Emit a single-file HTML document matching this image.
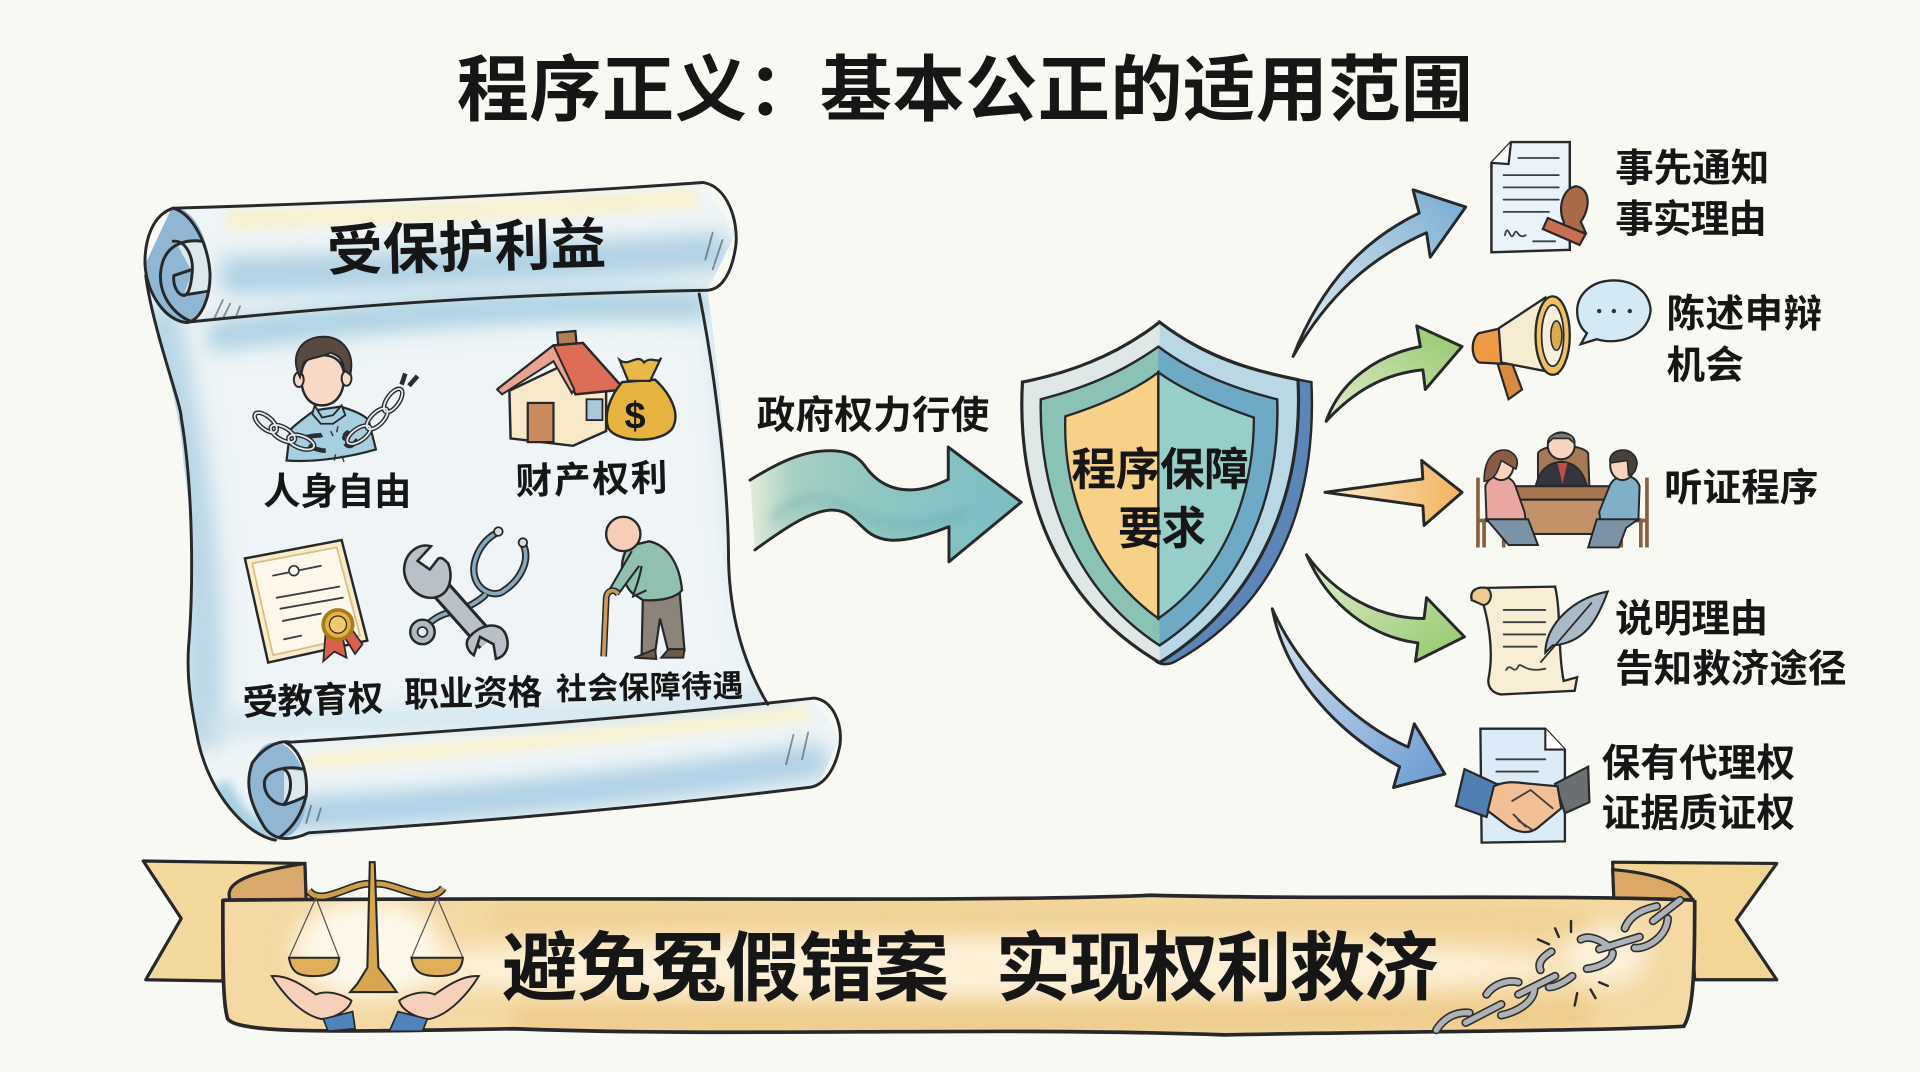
<!DOCTYPE html>
<html lang="zh"><head><meta charset="utf-8"><title>程序正义：基本公正的适用范围</title>
<style>
html,body{margin:0;padding:0;width:1920px;height:1072px;overflow:hidden;background:#f9f9f4}
svg{display:block}
text{font-family:"Liberation Sans","Noto Sans CJK SC",sans-serif;fill:#161616;font-weight:700}
.o{stroke:#26282a;stroke-width:2.4;stroke-linejoin:round;stroke-linecap:round}
.n{fill:none}
.l{fill:none;stroke:#3a3f44;stroke-width:1.5;stroke-linecap:round}
.cd{fill:none;stroke:#2a2c2e;stroke-width:3.8}
.cw{fill:none;stroke:#e4e8ea;stroke-width:1.5}
.gd{fill:none;stroke:#2c2e30;stroke-width:7;stroke-linecap:round}
.gw{fill:none;stroke:#aeb2b6;stroke-width:4.4;stroke-linecap:round}
</style></head><body>
<svg width="1920" height="1072" viewBox="0 0 1568 875.3" xmlns="http://www.w3.org/2000/svg" preserveAspectRatio="none">
<defs>
<filter id="b" filterUnits="userSpaceOnUse" x="0" y="0" width="1568" height="876"><feGaussianBlur stdDeviation="9"/></filter>
<filter id="b2" filterUnits="userSpaceOnUse" x="0" y="0" width="1568" height="876"><feGaussianBlur stdDeviation="4"/></filter>
<clipPath id="sc"><path d="M119 215C125 270 148 330 150 380C158 430 158 480 154 528C152 560 158 585 162 606C172 650 202 682 225 686L668 642L686 603L665 570L626 576C606 540 596 500 595 458C596 400 590 330 578 237L601 190L574 149L140 170Z"/></clipPath>
<clipPath id="bn"><path d="M182 735C182 790 182 820 186 832C195 845 290 842 420 840C600 847 800 838 1000 845C1150 842 1300 842 1375 838C1384 825 1384 780 1384 735C1250 730 1100 735 940 731C800 737 500 732 182 735Z"/></clipPath>
<linearGradient id="a1" x1="0" y1="1" x2="1" y2="0"><stop offset="0" stop-color="#e3edf2"/><stop offset=".6" stop-color="#a6c8de"/><stop offset="1" stop-color="#75a9d3"/></linearGradient>
<linearGradient id="a2" x1="0" y1="1" x2="1" y2="0"><stop offset="0" stop-color="#e0ecc8"/><stop offset="1" stop-color="#95c76c"/></linearGradient>
<linearGradient id="a3" x1="0" y1="0" x2="1" y2="0"><stop offset="0" stop-color="#faeccb"/><stop offset="1" stop-color="#f2b25e"/></linearGradient>
<linearGradient id="a4" x1="0" y1="0" x2="1" y2="1"><stop offset="0" stop-color="#e2eecc"/><stop offset="1" stop-color="#93c76c"/></linearGradient>
<linearGradient id="a5" x1="0" y1="0" x2="1" y2="1"><stop offset="0" stop-color="#d9e5f1"/><stop offset="1" stop-color="#699ad1"/></linearGradient>
<linearGradient id="t" x1="0" y1="0" x2="1" y2="0"><stop offset="0" stop-color="#e3ecd9"/><stop offset=".16" stop-color="#a6d0c4"/><stop offset=".5" stop-color="#8cc6c0"/><stop offset="1" stop-color="#7cbcc2"/></linearGradient>
</defs>

<rect width="1568" height="876" fill="#f9f9f4"/>

<!-- title -->
<text x="373" y="94" font-size="59" textLength="830" lengthAdjust="spacing">程序正义：基本公正的适用范围</text>

<!-- scroll -->
<path d="M119 215C125 270 148 330 150 380C158 430 158 480 154 528C152 560 158 585 162 606C172 650 202 682 225 686L668 642L686 603L665 570L626 576C606 540 596 500 595 458C596 400 590 330 578 237L601 190L574 149L140 170Z" fill="#eff5f7"/>
<g clip-path="url(#sc)">
 <path d="M130 250C150 350 172 450 165 610" stroke="#b7d5e5" stroke-width="30" fill="none" filter="url(#b)"/>
 <path d="M170 275C300 258 450 245 580 250" stroke="#a9cfe0" stroke-width="24" fill="none" filter="url(#b)"/>
 <path d="M590 260C610 380 600 500 640 570" stroke="#c8e0ea" stroke-width="22" fill="none" filter="url(#b)"/>
 <path d="M170 592C300 585 500 590 640 568" stroke="#cfe4ee" stroke-width="18" fill="none" filter="url(#b)"/>
 <path d="M180 225C330 222 480 212 595 205" stroke="#aed0e2" stroke-width="30" fill="none" filter="url(#b)"/>
 <path d="M185 180C300 176 450 170 570 162" stroke="#f8f0cf" stroke-width="16" fill="none" filter="url(#b2)"/>
 <path d="M230 665C350 660 550 640 675 620" stroke="#a9cee2" stroke-width="26" fill="none" filter="url(#b)"/>
 <path d="M250 622C370 612 550 596 660 582" stroke="#f8f1d2" stroke-width="13" fill="none" filter="url(#b2)"/>
 <path d="M180 640C190 665 205 680 230 685" stroke="#a9cee2" stroke-width="16" fill="none" filter="url(#b2)"/>
 <ellipse cx="145" cy="216" rx="26" ry="47" fill="#8fb6d3" transform="rotate(-6 145 216)"/>
 <path d="M165 197L172 222L168 240L150 241L157 222L143 197Z" fill="#dbe9ec"/>
 <ellipse cx="227" cy="645" rx="23" ry="39" fill="#8fb6d3" transform="rotate(-6 227 645)"/>
 <path d="M232 628L250 630L251 650L232 657Z" fill="#dbe9ec"/>
</g>
<path class="o n" d="M119 225C125 270 148 330 148 341C158 400 158 480 154 528C152 560 158 585 162 606C172 650 202 682 225 686"/>
<path class="o n" d="M571 240C585 310 595 400 595 458C596 500 606 540 627 575" />
<path class="o n" d="M141 170C280 166 420 160 574 149C594 152 603 180 601 200C598 222 590 236 578 237C420 240 300 248 153 263" stroke-width="3"/>
<path class="o n" stroke-width="2.8" d="M141.6 170C125 175 118 195 118.4 216C120 240 135 262 153 263.5C166 260 172 240 171.5 223C170 200 158 175 141.6 170Z"/>
<path class="o n" stroke-width="2.8" d="M165 197C150 195 132 200 131 225C131 245 145 258 155 262"/>
<path class="o n" stroke-width="2.6" d="M141.5 197C152 196 158 210 157 222C156 235 153 243 149 241C145 240 141 233 142 225L157 220M149 241L169 238"/>
<path class="o n" stroke-width="2.8" d="M237 606C400 595 530 585 665 570C680 572 688 590 686 608C682 630 672 642 660 643C520 660 380 672 252 680C235 688 221 686 214 672C204 655 200 640 206 623C215 610 228 604 237 606Z"/>
<path class="o n" stroke-width="2.6" d="M233 606C245 612 252 630 250 650C246 665 240 675 228 684"/>
<path class="o n" stroke-width="2.6" d="M248 628C235 625 218 628 216 638C215 650 225 657 232 657C240 655 250 650 250 650M232 628C238 632 240 645 232 657"/>
<path d="M182 245l-7 15M188 248l-6 12M196 250l-3 8M582 190l-6 22M590 196l-8 24M254 658l-4 14M262 660l-3 10M648 600l-6 24M660 598l-5 22" class="l" opacity=".55"/>

<text x="267" y="218" font-size="45.5" textLength="228" lengthAdjust="spacing" transform="rotate(-1.5 380 203)">受保护利益</text>

<!-- person -->
<path d="M234 376L237 351C243 345 250 340 257 335L278 332C288 335 296 338 301 343L307 367C290 372 260 378 234 376Z" fill="#a6d0e0" stroke="#26282a" stroke-width="1.8"/>
<path d="M257 331L263 341L272 339L279 331L282 339L272 346L262 346L255 338Z" fill="#a6d0e0" stroke="#26282a" stroke-width="1.5"/>
<path d="M246 308C246 323 253 331 263 331C273 331 281 323 281 308C281 295 273 290 263 290C253 290 246 295 246 308Z" fill="#f8d9c6" stroke="#26282a" stroke-width="2"/>
<ellipse cx="244" cy="310" rx="4" ry="6" fill="#f8d9c6" stroke="#26282a" stroke-width="1.6"/>
<ellipse cx="283" cy="309" rx="4" ry="6" fill="#f8d9c6" stroke="#26282a" stroke-width="1.6"/>
<path d="M245 308C236 290 246 276 262 275C280 274 290 288 286 306L281 302C280 292 275 290 270 288C262 292 252 292 248 296Z" fill="#584a40" stroke="#26282a" stroke-width="1.6"/>
<g>
 <g class="cd"><ellipse cx="217" cy="345" rx="11" ry="5" transform="rotate(40 217 345)"/><ellipse cx="231" cy="354" rx="11" ry="5" transform="rotate(30 231 354)"/><ellipse cx="246" cy="361" rx="11" ry="5" transform="rotate(20 246 361)"/><path d="M250 357C258 355 261 356 263 355M252 364C258 367 262 368 266 368"/></g>
 <g class="cw"><ellipse cx="217" cy="345" rx="11" ry="5" transform="rotate(40 217 345)"/><ellipse cx="231" cy="354" rx="11" ry="5" transform="rotate(30 231 354)"/><ellipse cx="246" cy="361" rx="11" ry="5" transform="rotate(20 246 361)"/></g>
 <g class="cd"><path d="M285 352C282 356 280 358 282 358M282 362C285 366 288 364 292 359"/><ellipse cx="293" cy="355" rx="11" ry="5" transform="rotate(-35 293 355)"/><ellipse cx="308" cy="342" rx="11" ry="5" transform="rotate(-45 308 342)"/><ellipse cx="321" cy="327" rx="11" ry="5" transform="rotate(-55 321 327)"/><path d="M328 314L331 305M334 315L341 307"/></g>
 <g class="cw"><ellipse cx="293" cy="355" rx="11" ry="5" transform="rotate(-35 293 355)"/><ellipse cx="308" cy="342" rx="11" ry="5" transform="rotate(-45 308 342)"/><ellipse cx="321" cy="327" rx="11" ry="5" transform="rotate(-55 321 327)"/></g>
 <path d="M270 352l2 4M276 348l-1 5M283 352l-3 3M273 376l1-5M281 377l-2-5" stroke="#333" stroke-width="1.2" fill="none"/>
</g>
<text x="215" y="412" font-size="30.5" textLength="121" lengthAdjust="spacing">人身自由</text>

<!-- house -->
<rect x="456" y="271" width="15" height="22" fill="#b07f55" stroke="#26282a" stroke-width="1.8" transform="rotate(-5 462 283)"/>
<path d="M416 319L417 358L468 364L495 352L495 310L456 300Z" fill="#f7e8c8" stroke="#26282a" stroke-width="2"/>
<path d="M406 318L452 282L476 280L510 318L470 322L455 293Z" fill="#dd6d57" stroke="#26282a" stroke-width="2"/>
<path d="M406 318L452 282L469 318L467 321L452 295L410 322Z" fill="#e9a390" stroke="#26282a" stroke-width="1.6"/>
<rect x="431" y="329" width="21" height="32" fill="#c98b5e" stroke="#26282a" stroke-width="1.8"/>
<rect x="479" y="326" width="13" height="17" fill="#a9c9d6" stroke="#26282a" stroke-width="1.5"/>
<path d="M508 312C497 325 493 340 497 350C505 362 540 362 549 350C556 338 548 322 535 310Z" fill="#e5b33f" stroke="#26282a" stroke-width="2"/>
<path d="M506 294C514 300 520 288 526 296C532 290 538 298 540 292L531 311L513 311Z" fill="#e9b947" stroke="#26282a" stroke-width="1.8"/>
<text x="510" y="350" font-size="31" style="font-family:'Liberation Sans',sans-serif">$</text>
<text x="421" y="402" font-size="30" textLength="124" lengthAdjust="spacing" transform="rotate(-1.5 483 390)">财产权利</text>

<!-- diploma -->
<path d="M200 456L279 441L300 523L219 541Z" fill="#f9ecc9" stroke="#26282a" stroke-width="2"/>
<path d="M206 460L275 447L294 519L223 535Z" fill="#fdf8ea" stroke="#d9bc85" stroke-width="1.4"/>
<path d="M223 470L262 462M226 488L277 479M229 497L280 488M231 507L262 501M232 522L246 519" class="l"/>
<circle cx="240" cy="466" r="4" fill="#fff" stroke="#333" stroke-width="1.4"/>
<path d="M266 515L264 540L273 532L283 537L279 515ZM278 515L290 534L296 526L286 512Z" fill="#d8604e" stroke="#26282a" stroke-width="1.4"/>
<circle cx="276" cy="510" r="12" fill="#e7b23e" stroke="#a87b21" stroke-width="3"/>
<circle cx="276" cy="510" r="7" fill="#f0ca6c" stroke="#26282a" stroke-width="1"/>
<text x="198" y="582" font-size="29" textLength="115" lengthAdjust="spacing" transform="rotate(-2 255 571)">受教育权</text>

<!-- wrench and stethoscope -->
<g fill="none" stroke-linecap="round">
 <path d="M406 435C392 442 384 460 388 472C392 484 405 488 412 482C424 474 434 458 427 444M396 486C392 490 380 498 368 500C358 502 350 508 345 515" stroke="#26282a" stroke-width="6"/>
 <path d="M406 435C392 442 384 460 388 472C392 484 405 488 412 482C424 474 434 458 427 444M396 486C392 490 380 498 368 500C358 502 350 508 345 515" stroke="#88a9bc" stroke-width="3"/>
</g>
<circle cx="345" cy="516" r="10" fill="#aebbc3" stroke="#26282a" stroke-width="2"/><circle cx="345" cy="516" r="4" fill="#e7edef" stroke="#26282a" stroke-width="1.4"/>
<circle cx="407" cy="434" r="3.5" fill="#ddd" stroke="#222" stroke-width="1.4"/><circle cx="427" cy="443" r="3.5" fill="#ddd" stroke="#222" stroke-width="1.4"/>
<path d="M350 470L398 524" stroke="#26282a" stroke-width="18"/><path d="M350 470L398 524" stroke="#b9c0c8" stroke-width="13"/>
<path d="M352 446C341 443 330 452 330 466C331 480 345 492 358 487C368 483 370 470 366 460C362 456 361 455 358 456L351 465L341 458Z" fill="#b9c0c8" stroke="#26282a" stroke-width="2.1"/>
<path d="M382 522C390 510 408 506 413 518C417 528 413 536 405 538L403 526L392 520L387 535C382 532 380 526 382 522Z" fill="#b9c0c8" stroke="#26282a" stroke-width="2.1"/>
<text x="330" y="576" font-size="28.5" textLength="113" lengthAdjust="spacing" transform="rotate(-1 386 565)">职业资格</text>

<!-- old man -->
<path d="M525 487L555 483L559 531L546 533L539 505L535 533L524 534Z" fill="#8c8478" stroke="#26282a" stroke-width="1.8"/>
<path d="M535 530L518 537L536 538ZM546 530L559 530L558 537L540 537Z" fill="#6e5a47" stroke="#26282a" stroke-width="1.6"/>
<path d="M513 446C503 462 510 478 516 484L525 490C540 491 552 488 557 482C555 460 545 445 530 442Z" fill="#8fc0b0" stroke="#26282a" stroke-width="1.9"/>
<path d="M516 450L498 481L505 485L522 462M524 462C522 475 518 482 517 487L528 482" fill="#8fc0b0" stroke="#26282a" stroke-width="1.7"/>
<circle cx="509" cy="436" r="14" fill="#f7cdb8" stroke="#26282a" stroke-width="1.9"/>
<path d="M493 536L495 490C495 482 501 480 505 485" fill="none" stroke="#26282a" stroke-width="5.5"/>
<path d="M493 536L495 490C495 482 501 480 505 485" fill="none" stroke="#c99a5f" stroke-width="3"/>
<text x="454" y="570" font-size="25.3" textLength="153" lengthAdjust="spacing" transform="rotate(-1 530 560)">社会保障待遇</text>

<!-- big arrow -->
<text x="618" y="350" font-size="31.5" textLength="190" lengthAdjust="spacing">政府权力行使</text>
<path d="M612.5 392C635 378 655 368 678 368C692 368 700 372 706 380C715 393 727 400 743 400C755 400 765 396 774.4 391.5L774.4 365L834 410L775 458.7L775 430C760 436 742 442 727 441C714 440 708 434 702 428C694 420 688 416 678 416.5C660 418 640 432 616.5 449C615 430 614 410 612.5 392Z" fill="url(#t)"/>
<path d="M630 425C650 400 680 405 700 418C720 430 750 432 790 418" stroke="#5fa3ac" stroke-width="7" fill="none" opacity=".35" filter="url(#b2)"/>
<path class="o n" stroke-width="3" d="M612.5 392C635 378 655 368 678 368C692 368 700 372 706 380C715 393 727 400 743 400C755 400 765 396 774.4 391.5L774.4 365L834 410L775 458.7L775 430C760 436 742 442 727 441C714 440 708 434 702 428C694 420 688 416 678 416.5C660 418 640 432 616.5 449"/>

<!-- shield -->
<path d="M947 263C985 292 1030 305 1071 312C1075 400 1050 490 960 540C955 543 948 543 944 540Z" fill="#5d86b8" stroke="#26282a" stroke-width="2"/>
<path d="M947 263C910 292 870 305 835 312C830 400 860 490 947 541C1030 490 1065 400 1060 310C1020 302 985 292 947 263Z" fill="#bad8e4"/>
<path d="M947 263C910 292 870 305 835 312C830 400 860 490 947 541Z" fill="#dfe8e6"/>
<path d="M947 263C910 292 870 305 835 312C830 400 860 490 947 541C1030 490 1065 400 1060 310C1020 302 985 292 947 263Z" fill="none" stroke="#26282a" stroke-width="2.6"/>
<path d="M946 283C915 305 885 317 850 326C848 400 875 480 947 527C1018 480 1046 400 1043 326C1010 318 975 305 946 283Z" fill="#6eaac6"/>
<path d="M946 283C915 305 885 317 850 326C848 400 875 480 947 527Z" fill="#8ac3b6"/>
<path d="M946 283C915 305 885 317 850 326C848 400 875 480 947 527C1018 480 1046 400 1043 326C1010 318 975 305 946 283Z" fill="none" stroke="#26282a" stroke-width="2"/>
<path d="M946 304C925 320 895 332 870 340C868 400 890 465 946 505Z" fill="#f7d188" stroke="#26282a" stroke-width="1.9"/>
<path d="M946 304C968 320 998 332 1024 341C1024 400 1003 465 946 505Z" fill="#98cec9" stroke="#26282a" stroke-width="1.9"/>
<text x="875" y="396" font-size="36.5" textLength="145" lengthAdjust="spacing">程序保障</text>
<text x="913" y="444" font-size="36.5" textLength="72" lengthAdjust="spacing">要求</text>

<!-- arrows -->
<path class="o" stroke-width="2" fill="url(#a1)" d="M1056 291C1080 230 1115 195 1159 174L1154 155L1197 169L1168 210L1165 190C1120 210 1085 240 1056 291Z"/>
<path class="o" stroke-width="2" fill="url(#a2)" d="M1083 344C1095 310 1125 290 1160 283L1157 266L1194 283L1164 318L1162 302C1130 305 1105 320 1083 344Z"/>
<path class="o" stroke-width="2" fill="url(#a3)" d="M1082 402L1162 391L1161 376L1194 402L1163 429L1162 413Z"/>
<path class="o" stroke-width="2" fill="url(#a4)" d="M1067 453C1090 485 1125 505 1163 505L1165 488L1196 520L1156 540L1158 525C1120 520 1085 495 1067 453Z"/>
<path class="o" stroke-width="2" fill="url(#a5)" d="M1039 497C1060 545 1105 590 1150 610L1155 591L1180 632L1138 643L1143 626C1095 600 1050 555 1039 497Z"/>

<!-- doc 1 -->
<path d="M1218 133L1234 116L1282 116L1282 204L1218 206Z" fill="#eaf3f8" stroke="#26282a" stroke-width="2"/>
<path d="M1234 116L1232 134L1218 133" fill="#fff" stroke="#26282a" stroke-width="1.8"/>
<path d="M1240 129H1273M1228 143H1273M1228 153H1273M1228 163H1273M1228 173H1265M1252 197H1270" class="l"/>
<path d="M1229 192C1232 180 1233 200 1237 190C1239 186 1240 196 1246 192" class="l" stroke="#2f6a70"/>
<path d="M1277 181C1272 170 1276 154 1287 152C1299 154 1299 170 1291 181L1295 190L1277 188Z" fill="#a96a48" stroke="#26282a" stroke-width="1.8"/>
<path d="M1264 178L1295 191L1290 200L1260 187Z" fill="#c86f50" stroke="#26282a" stroke-width="1.8"/>
<text x="1319" y="148" font-size="31.5" textLength="126" lengthAdjust="spacing">事先通知</text>
<text x="1319" y="190" font-size="31.5" textLength="124" lengthAdjust="spacing">事实理由</text>

<!-- megaphone -->
<path d="M1223 297L1235 297L1243 318L1232 326Z" fill="#d98a3f" stroke="#26282a" stroke-width="1.8"/>
<path d="M1208 272L1226 268L1227 297L1208 296C1201 292 1201 276 1208 272Z" fill="#ef9a45" stroke="#26282a" stroke-width="1.9"/>
<path d="M1224 268L1262 243L1272 305L1226 296Z" fill="#f5ecd2" stroke="#26282a" stroke-width="1.9"/>
<ellipse cx="1268" cy="274" rx="14" ry="32" fill="#eec15f" stroke="#26282a" stroke-width="1.9"/>
<ellipse cx="1268" cy="274" rx="9" ry="25" fill="#f7f1dd" stroke="#26282a" stroke-width="1.4"/>
<ellipse cx="1271" cy="274" rx="4.5" ry="12" fill="#dba94f" stroke="#26282a" stroke-width="1.2"/>
<path d="M1318 229C1300 229 1288 240 1288 254C1288 264 1293 270 1296 272L1291 281L1304 277C1325 283 1347 272 1348 253C1347 239 1335 229 1318 229Z" fill="#d4e9f4" stroke="#26282a" stroke-width="1.9"/>
<circle cx="1306" cy="254" r="1.8" fill="#333"/><circle cx="1318" cy="254" r="1.8" fill="#333"/><circle cx="1331" cy="254" r="1.8" fill="#333"/>
<text x="1361" y="267" font-size="31.5" textLength="127" lengthAdjust="spacing">陈述申辩</text>
<text x="1361" y="309" font-size="31.5" textLength="63" lengthAdjust="spacing">机会</text>

<!-- hearing -->
<path d="M1256 397L1256 370C1260 362 1292 362 1297 370L1298 397Z" fill="#a77a55" stroke="#26282a" stroke-width="1.6"/>
<path d="M1254 397C1258 382 1265 378 1275 377C1285 378 1292 382 1296 397Z" fill="#34363d" stroke="#26282a" stroke-width="1.5"/>
<path d="M1272 378L1276 395L1280 378Z" fill="#c94b46"/>
<circle cx="1275" cy="364" r="11" fill="#f7d4be" stroke="#26282a" stroke-width="1.6"/>
<path d="M1264 362C1263 351 1287 350 1286 362L1281 358H1268Z" fill="#7c7873" stroke="#26282a" stroke-width="1.3"/>
<rect x="1235" y="397" width="82" height="11" fill="#a8764d" stroke="#26282a" stroke-width="1.7"/>
<rect x="1238" y="408" width="76" height="28" fill="#c29268" stroke="#26282a" stroke-width="1.7"/>
<path d="M1207 390V447M1207 425H1230M1212 425V447M1228 425V447M1345 390V447M1345 425H1322M1340 425V447M1324 425V447" stroke="#8a5f3f" stroke-width="3" fill="none"/>
<path d="M1213 397C1217 385 1235 386 1238 398L1245 418L1246 425H1214Z" fill="#eaa7a2" stroke="#26282a" stroke-width="1.6"/>
<path d="M1214 424H1248L1256 445H1232Z" fill="#7c93a6" stroke="#26282a" stroke-width="1.6"/>
<ellipse cx="1226" cy="380" rx="10" ry="12" fill="#f7d4be" stroke="#26282a" stroke-width="1.6"/>
<path d="M1212 393C1212 370 1224 366 1232 368C1240 372 1240 378 1238 383L1226 376C1224 382 1222 392 1212 393Z" fill="#8b5b48" stroke="#26282a" stroke-width="1.3"/>
<path d="M1339 397C1335 385 1318 386 1314 398L1306 418L1307 425H1338Z" fill="#7fb0c8" stroke="#26282a" stroke-width="1.6"/>
<path d="M1338 424H1304L1297 447H1322L1328 431Z" fill="#7c93a6" stroke="#26282a" stroke-width="1.6"/>
<ellipse cx="1325" cy="380" rx="10" ry="12" fill="#f7d4be" stroke="#26282a" stroke-width="1.6"/>
<path d="M1315 378C1312 366 1335 362 1337 378C1336 386 1333 388 1330 388L1329 376Z" fill="#4a4038" stroke="#26282a" stroke-width="1.3"/>
<text x="1359" y="409" font-size="31.5" textLength="126" lengthAdjust="spacing">听证程序</text>

<!-- scroll 2 -->
<path d="M1202 490C1200 482 1206 479 1214 480L1270 479C1275 500 1272 530 1277 556L1288 553L1286 564L1226 567C1218 566 1214 560 1216 552C1220 530 1215 505 1211 492Z" fill="#f8eed5" stroke="#26282a" stroke-width="1.9"/>
<path d="M1202 490C1200 482 1206 479 1214 480C1220 483 1218 494 1211 494Z" fill="#eec98b" stroke="#26282a" stroke-width="1.7"/>
<path d="M1228 498H1262M1228 508H1262M1228 518H1262M1228 528H1255" class="l"/>
<path d="M1230 547C1234 540 1236 552 1240 544C1242 540 1245 550 1262 546" class="l"/>
<path d="M1262 533C1262 510 1285 488 1313 483C1305 505 1295 525 1268 527Z" fill="#a9bac6" stroke="#26282a" stroke-width="1.7"/>
<path d="M1258 541L1300 492" stroke="#26282a" stroke-width="1.4"/>
<text x="1319" y="516" font-size="31.5" textLength="125" lengthAdjust="spacing">说明理由</text>
<text x="1319" y="557" font-size="31.5" textLength="189" lengthAdjust="spacing">告知救济途径</text>

<!-- doc + handshake -->
<path d="M1209 595L1262 595L1278 612L1278 687L1210 688Z" fill="#dcecf6" stroke="#26282a" stroke-width="1.9"/>
<path d="M1262 595L1262 612L1278 612" fill="#fff" stroke="#26282a" stroke-width="1.7"/>
<path d="M1222 620H1262M1222 630H1256M1222 640H1240" class="l"/>
<path d="M1196 628L1222 640L1214 667L1189 658Z" fill="#4f7fb3" stroke="#26282a" stroke-width="1.8"/>
<path d="M1297 626L1270 640L1278 664L1298 655Z" fill="#6d7072" stroke="#26282a" stroke-width="1.8"/>
<path d="M1220 642C1232 636 1245 640 1250 640L1272 642L1275 660L1258 674C1250 682 1240 680 1232 675L1215 662Z" fill="#f3bf95" stroke="#26282a" stroke-width="1.8"/>
<path d="M1235 654L1250 645L1268 660M1240 670L1252 678M1236 665L1246 675" class="l"/>
<text x="1308" y="634" font-size="31.5" textLength="158" lengthAdjust="spacing">保有代理权</text>
<text x="1308" y="675" font-size="31.5" textLength="158" lengthAdjust="spacing">证据质证权</text>

<!-- banner ribbon -->
<path d="M117 703L249 705L250 735L182 735L182 801L119 800L148 750Z" fill="#f4d99e" stroke="#26282a" stroke-width="2.6" stroke-linejoin="round"/>
<path d="M1317 704L1451 705L1418 751L1451 800L1384 800L1380 735L1318 735Z" fill="#f3d695" stroke="#26282a" stroke-width="2.6" stroke-linejoin="round"/>
<path d="M188 735C182 720 205 712 249 705L250 735Z" fill="#d8a96a" stroke="#26282a" stroke-width="2.6"/>
<path d="M1317 710C1340 712 1380 718 1384 740L1318 735Z" fill="#dba764" stroke="#26282a" stroke-width="2.6"/>
<path d="M182 735C182 790 182 820 186 832C195 845 290 842 420 840C600 847 800 838 1000 845C1150 842 1300 842 1375 838C1384 825 1384 780 1384 735C1250 730 1100 735 940 731C800 737 500 732 182 735Z" fill="#f4d9a4"/>
<g clip-path="url(#bn)">
 <ellipse cx="780" cy="790" rx="500" ry="24" fill="#fcf1d8" filter="url(#b)"/>
 <ellipse cx="300" cy="775" rx="60" ry="40" fill="#fdf8ea" filter="url(#b)"/>
 <ellipse cx="1310" cy="780" rx="35" ry="25" fill="#fbf0d8" filter="url(#b)"/>
 <path d="M400 748C600 744 900 745 1300 752" stroke="#efcb88" stroke-width="12" fill="none" filter="url(#b)"/>
 <path d="M420 832C700 835 1000 832 1300 828" stroke="#ecc27c" stroke-width="14" fill="none" filter="url(#b)"/>
</g>
<path d="M182 735C500 732 800 737 940 731C1100 735 1250 730 1384 735" fill="none" stroke="#26282a" stroke-width="3"/>
<path d="M182 735C182 790 182 820 186 832C195 845 290 842 420 840C600 847 800 838 1000 845C1150 842 1300 842 1375 838C1384 825 1384 780 1384 735" fill="none" stroke="#26282a" stroke-width="3"/>

<text x="410" y="812" font-size="61.5" textLength="365" lengthAdjust="spacing">避免冤假错案</text>
<text x="813" y="812" font-size="61.5" textLength="362" lengthAdjust="spacing">实现权利救济</text>

<!-- scales -->
<path d="M252 727C262 742 290 718 305 722C320 718 350 742 362 725" fill="none" stroke="#26282a" stroke-width="6.5"/>
<path d="M252 727C262 742 290 718 305 722C320 718 350 742 362 725" fill="none" stroke="#cf9e4b" stroke-width="3.8"/>
<path d="M302 704L306 704L309 790L319 803L324 810H286L292 803L300 790Z" fill="#d8a650" stroke="#26282a" stroke-width="1.7"/>
<path d="M258 733L236 782M258 733L277 782M357 733L336 782M357 733L378 782" stroke="#555" stroke-width="1"/>
<path d="M236 782H277C276 795 267 797 256 797C245 797 238 795 236 782Z" fill="#e0ae54" stroke="#26282a" stroke-width="1.7"/>
<path d="M336 782H378C377 795 368 797 357 797C346 797 338 795 336 782Z" fill="#e0ae54" stroke="#26282a" stroke-width="1.7"/>
<!-- hands -->
<path d="M222 797C235 796 248 805 258 812C268 808 280 812 287 817C285 825 272 832 262 832C245 828 230 810 222 797Z" fill="#f7d0ba" stroke="#26282a" stroke-width="1.6"/>
<path d="M391 797C378 796 365 805 355 812C345 808 333 812 326 817C328 825 341 832 351 832C368 828 383 810 391 797Z" fill="#f7d0ba" stroke="#26282a" stroke-width="1.6"/>
<path d="M264 832L288 826L290 840L268 842Z" fill="#4f83bd" stroke="#26282a" stroke-width="1.4"/>
<path d="M349 832L325 826L318 842L345 842Z" fill="#4f83bd" stroke="#26282a" stroke-width="1.4"/>

<!-- chain -->
<g class="gd">
 <path d="M1173 841C1180 830 1190 826 1200 827"/><path d="M1197 835L1226 820"/>
 <path d="M1214 812C1220 803 1232 800 1240 802M1226 829C1240 826 1252 818 1253 808"/><path d="M1240 812L1270 797"/>
 <path d="M1258 792C1255 785 1262 780 1267 777M1265 806C1270 806 1278 802 1284 797"/>
 <path d="M1291 767C1298 763 1308 768 1314 773M1296 791C1305 790 1317 785 1317 778"/><path d="M1306 775L1339 765"/>
 <path d="M1327 758C1332 745 1345 742 1353 740M1335 774C1345 775 1361 765 1362 750"/><path d="M1350 752L1372 735"/>
</g>
<g class="gw">
 <path d="M1173 841C1180 830 1190 826 1200 827"/><path d="M1197 835L1226 820"/>
 <path d="M1214 812C1220 803 1232 800 1240 802M1226 829C1240 826 1252 818 1253 808"/><path d="M1240 812L1270 797"/>
 <path d="M1258 792C1255 785 1262 780 1267 777M1265 806C1270 806 1278 802 1284 797"/>
 <path d="M1291 767C1298 763 1308 768 1314 773M1296 791C1305 790 1317 785 1317 778"/><path d="M1306 775L1339 765"/>
 <path d="M1327 758C1332 745 1345 742 1353 740M1335 774C1345 775 1361 765 1362 750"/><path d="M1350 752L1372 735"/>
</g>
<path d="M1283 752l0 9M1270 758l3 7M1256 767l9 4M1306 802l7 3M1299 808l4 7M1288 811l-2 10" stroke="#2a2a2a" stroke-width="2" fill="none" stroke-linecap="round"/>
</svg>
</body></html>
